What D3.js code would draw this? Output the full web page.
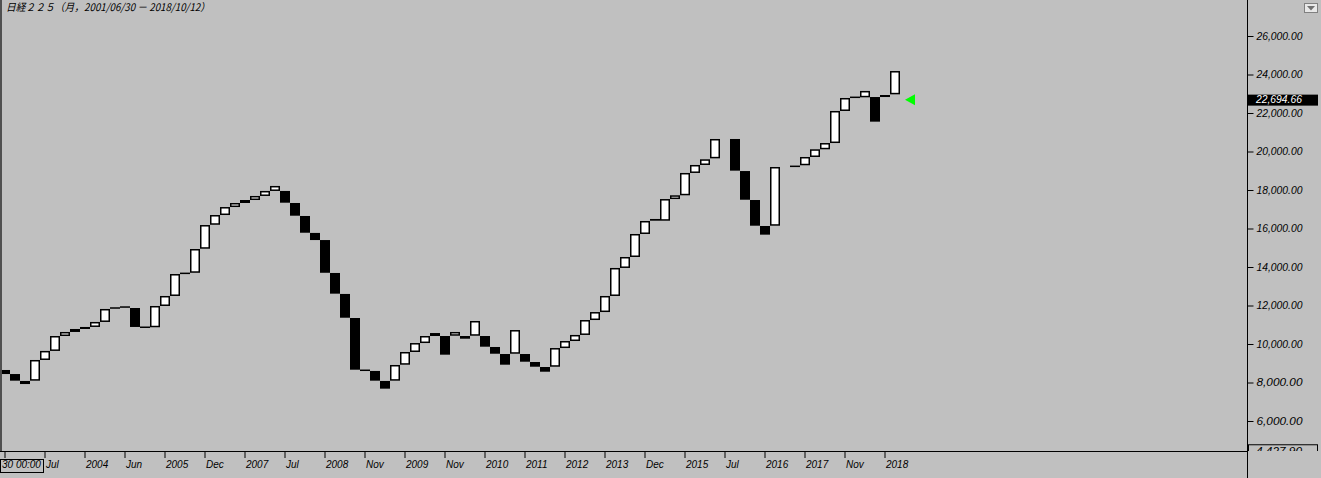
<!DOCTYPE html>
<html><head><meta charset="utf-8">
<script src="https://cdn.jsdelivr.net/npm/d3@7"></script>
<style>html,body{margin:0;padding:0;background:#c0c0c0;overflow:hidden}</style>
</head><body>
<svg id="chart" width="1321" height="478"></svg>
<script>
// ---- data ----
const titleText = "日経２２５（月，2001/06/30 － 2018/10/12）";
const opens = [8650,8440,8080,8095,9170,9640,10415,10625,10885,10885,
  11145,11870,11920,11870,10870,10870,11975,12495,13670,13700,
  14950,16195,16700,17115,17325,17480,17690,17950,17950,17325,
  16650,15770,15400,13690,12600,11350,8635,8600,8080,8095,
  8925,9585,10050,10415,10415,10430,10415,10430,10415,9845,
  9480,9495,9480,9065,8805,8820,9790,10155,10470,11245,
  11660,12495,13950,14520,15715,16495,16405,17530,17725,18885,
  19300,19645,null,20650,18985,17480,16130,16145,null,19230,
  19285,19715,20115,20440,22105,22815,22815,22830,22935,22970];
const closes = [8440,8095,7920,9170,9640,10415,10625,10780,10780,11145,
  11820,11870,11920,10885,10870,11975,12495,13635,13670,14935,
  16180,16700,17115,17325,17480,17690,17950,18210,17340,16665,
  15780,15400,13700,12615,11365,8665,8635,8095,7680,8910,
  9585,10050,10415,10570,9445,10625,10275,11195,9860,9495,
  8925,10725,9080,8820,8560,9790,10155,10470,11245,11660,
  12495,13950,14520,15715,16390,16405,17530,17725,18885,19300,
  19595,20650,null,19005,17495,16145,15680,19195,null,19230,
  19715,20115,20440,22105,22780,22815,23145,21550,22830,24180];
const xTickLabels = ["30 00:00","Jul","2004","Jun","2005","Dec","2007","Jul","2008","Nov","2009",
  "Nov","2010","2011","2012","2013","Dec","2015","Jul","2016","2017","Nov","2018"];
const yTickValues = [6000,8000,10000,12000,14000,16000,18000,20000,22000,24000,26000];
const lastPrice = 22694.66;
const axisMin = 4427.90;

// ---- layout ----
const svg = d3.select("#chart");
const W = 1321, H = 478;
const plotBottom = 451, axisX = 1247;
const nBoxes = opens.length;

svg.append("rect").attr("width", W).attr("height", H).attr("fill", "#c0c0c0");

const x = d3.scaleBand().domain(d3.range(nBoxes)).range([0, nBoxes * 10]).paddingInner(0).paddingOuter(0);
const y = d3.scaleLinear().domain([6000, 26000]).range([421, 36]);

const italic = "'Liberation Sans', Arial, sans-serif";

// plot clip
svg.append("clipPath").attr("id", "plotClip").append("rect")
  .attr("x", 0).attr("y", 0).attr("width", axisX).attr("height", plotBottom);
svg.append("clipPath").attr("id", "axisClip").append("rect")
  .attr("x", axisX).attr("y", 0).attr("width", W - axisX).attr("height", plotBottom);

const g = svg.append("g").attr("clip-path", "url(#plotClip)");

const data = opens.map((o, i) => ({i, o, c: closes[i]})).filter(d => d.o != null && d.c != null);

data.forEach(d => {
  const x0 = x(d.i);
  const top = y(Math.max(d.o, d.c)), bot = y(Math.min(d.o, d.c));
  if (Math.abs(d.o - d.c) < 1) {
    g.append("rect").attr("x", x0).attr("y", top - 0.75).attr("width", 10).attr("height", 1.5).attr("fill", "#000");
  } else if (d.c > d.o) {
    g.append("rect").attr("x", x0 + 0.75).attr("y", top + 0.75)
      .attr("width", 8.5).attr("height", Math.max(bot - top - 1.5, 0.5))
      .attr("fill", "#fff").attr("stroke", "#000").attr("stroke-width", 1.5);
  } else {
    g.append("rect").attr("x", x0).attr("y", top).attr("width", 10)
      .attr("height", Math.max(bot - top, 1.5)).attr("fill", "#000");
  }
});

// last price marker (green triangle)
const lastX = x(nBoxes - 1) + 15, lastY = y(lastPrice);
g.append("path")
  .attr("d", `M${lastX},${lastY} L${lastX + 10},${lastY - 5.5} L${lastX + 10},${lastY + 5.5} Z`)
  .attr("fill", "#00ff00");

// title
svg.append("text").attr("x", 6).attr("y", 11)
  .attr("font-family", "'Noto Sans CJK JP', sans-serif").attr("font-size", 10.5)
  .attr("font-style", "italic").attr("fill", "#000")
  .attr("textLength", 204).attr("lengthAdjust", "spacingAndGlyphs")
  .text(titleText);

// frame lines
svg.append("rect").attr("x", 0).attr("y", 0).attr("width", 2).attr("height", plotBottom).attr("fill", "#505050");
svg.append("line").attr("x1", 0).attr("x2", axisX).attr("y1", plotBottom + 0.5).attr("y2", plotBottom + 0.5)
  .attr("stroke", "#000").attr("stroke-width", 1);
svg.append("line").attr("x1", axisX + 0.5).attr("x2", axisX + 0.5).attr("y1", 0).attr("y2", H)
  .attr("stroke", "#000").attr("stroke-width", 1);

// y axis
const yAxis = d3.axisRight(y).tickValues(yTickValues).tickSize(6).tickPadding(3)
  .tickFormat(d3.format(",.2f"));
const ya = svg.append("g").attr("transform", `translate(${axisX + 0.5},0)`).call(yAxis);
ya.select(".domain").remove();
ya.selectAll(".tick line").attr("stroke", "#000");
ya.selectAll(".tick text").attr("font-family", italic).attr("font-size", 10.5)
  .attr("font-style", "italic").attr("fill", "#000").attr("x", 9)
  .attr("textLength", 46).attr("lengthAdjust", "spacingAndGlyphs");

// last price label
svg.append("rect").attr("x", axisX + 1).attr("y", lastY - 5).attr("width", W - axisX - 4).attr("height", 11).attr("fill", "#000");
svg.append("text").attr("x", axisX + 9).attr("y", lastY).attr("dy", "0.35em")
  .attr("font-family", italic).attr("font-size", 10.5).attr("font-style", "italic").attr("fill", "#fff")
  .attr("textLength", 46).attr("lengthAdjust", "spacingAndGlyphs")
  .text(d3.format(",.2f")(lastPrice));

// axis min label (clipped)
const minG = svg.append("g").attr("clip-path", "url(#axisClip)");
minG.append("rect").attr("x", axisX + 1.5).attr("y", y(axisMin) - 6.5).attr("width", W - axisX - 5).attr("height", 12)
  .attr("fill", "none").attr("stroke", "#000");
minG.append("text").attr("x", axisX + 9).attr("y", y(axisMin)).attr("dy", "0.35em")
  .attr("font-family", italic).attr("font-size", 10.5).attr("font-style", "italic").attr("fill", "#000")
  .attr("textLength", 46).attr("lengthAdjust", "spacingAndGlyphs")
  .text(d3.format(",.2f")(axisMin));

// dropdown button
svg.append("rect").attr("x", 1304.5).attr("y", 3.5).attr("width", 13).attr("height", 9)
  .attr("fill", "#e8e8e8").attr("stroke", "#808080");
svg.append("path").attr("d", "M1307,6 L1315,6 L1311,10.5 Z").attr("fill", "#707070");

// x axis
const xTickIdx = xTickLabels.map((_, k) => k * 4);
const xAxis = d3.axisBottom(x).tickValues(xTickIdx).tickSize(6).tickFormat((d) => xTickLabels[d / 4]);
const xa = svg.append("g").attr("transform", `translate(0,${plotBottom + 1})`).call(xAxis);
xa.select(".domain").remove();
xa.selectAll(".tick line").attr("stroke", "#000");
xa.selectAll(".tick text").attr("font-family", italic).attr("font-size", 10)
  .attr("font-style", "italic").attr("fill", "#000")
  .attr("text-anchor", "start").attr("x", 1).attr("y", 9);
// boxed first label
const first = xa.select(".tick");
first.select("text").attr("x", -3);
first.insert("rect", "text").attr("x", -4.5).attr("y", 7.5).attr("width", 43).attr("height", 13)
  .attr("fill", "none").attr("stroke", "#000");
</script>
</body></html>
